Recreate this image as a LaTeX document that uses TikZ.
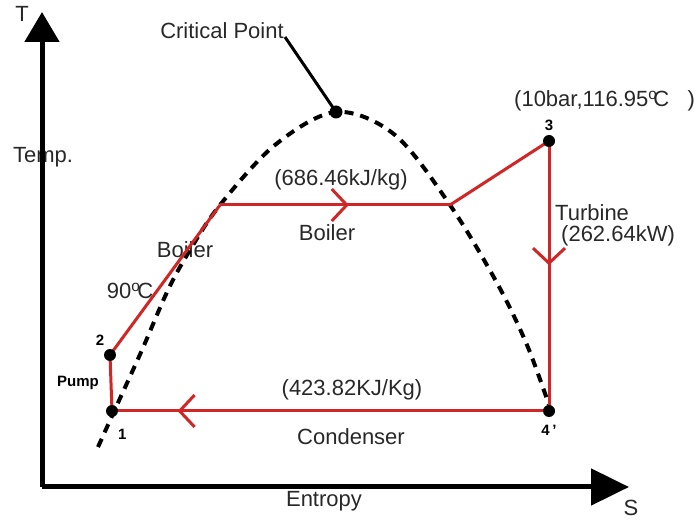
\documentclass[tikz,border=0pt]{standalone}
\usepackage{fontspec}
\setmainfont{Liberation Sans}
\usetikzlibrary{arrows.meta,decorations.markings}

\definecolor{cyclered}{RGB}{208,38,38}
\definecolor{txtgray}{RGB}{40,40,40}

\tikzset{
  axisline/.style={line width=5pt, black},
  cycleline/.style={draw=cyclered, line width=3pt, line join=round},
  domeline/.style={black, line width=4pt, dash pattern=on 9pt off 7pt},
  midbarb/.style={postaction={decorate}, decoration={markings,
      mark=at position #1 with {\arrow[cyclered, line width=3pt]{Straight Barb[length=15pt,width=32pt]}}}},
  txt/.style={text=txtgray, font=\fontsize{22}{26}\selectfont, inner sep=0pt},
  numtxt/.style={text=black, font=\fontsize{15}{18}\selectfont\bfseries, inner sep=0pt}
}

\begin{document}
\begin{tikzpicture}[x=1pt,y=-1pt]
    \useasboundingbox (0,0) rectangle (697,521);
    % texts lying under the lines
    \node[txt] (temp) at (43,157) {Temp.};
    \node[txt] (boilerleft) at (185,250) {Boiler};

    % axes
    \coordinate (O) at (42,487);
    \coordinate (Ttip) at (42,12);
    \coordinate (Stip) at (629,487);
    \draw[axisline, -{Triangle[length=30pt,width=34pt]}] (O) -- (Ttip);
    \draw[axisline, -{Triangle[length=38pt,width=36pt]}] (O) -- (Stip);
    \node[txt] (T) at (22,14) {T};
    \node[txt] (S) at (631,508) {S};
    \node[txt] (entropy) at (324,501) {Entropy};

    % saturation dome
    \draw[domeline] plot[smooth, tension=0.55] coordinates {(98,447) (117,405) (142,350) (168,290) (190,250) (220,205) (275,145) (336,112) (395,135) (450,205) (497,283) (527,345) (549,405)};

    % states
    \coordinate [label={[numtxt, label distance=19pt]-72:1}] (n1) at (112,411);
    \coordinate [label={[numtxt, label distance=11pt]120:2}] (n2) at (110,355);
    \coordinate [label={[numtxt, label distance=10pt]above:3}] (n3) at (549,141);
    \coordinate [label={[numtxt, label distance=14pt]below:4\,'}] (n4) at (549,411);
    \coordinate (a) at (220,205);
    \coordinate (b) at (450,205);

    % cycle
    \draw[cycleline] (n1) -- (n2) -- (a);
    \draw[cycleline, midbarb=0.56] (a) -- (b);
    \draw[cycleline] (b) -- (n3);
    \draw[cycleline, midbarb=0.46] (n3) -- (n4);
    \draw[cycleline, midbarb=0.85] (n4) -- (n1);
    \fill (n1) circle (6pt);
    \fill (n2) circle (6pt);
    \fill (n3) circle (6pt);
    \fill (n4) circle (6pt);

    % critical point
    \coordinate (cp) at (336,112);
    \node[txt] (crit) at (222,31) {Critical Point};
    \coordinate (critend) at (285,37);
    \draw[black, line width=3pt] (critend) -- (cp);
    \fill (cp) circle (6.5pt);

    % labels
    \node[txt, anchor=west] (state3) at (514,101) {(10bar,116.95\textsuperscript{o}\kern-4pt C\ \ \ )};
    \node[txt] (qin) at (341,180) {(686.46kJ/kg)};
    \node[txt] (boiler) at (327,233) {Boiler};
    \node[txt] (t90) at (130,291) {90\textsuperscript{o}\kern-3pt C};
    \node[numtxt] (pump) at (78,383) {Pump};
    \node[txt] (qout) at (352,390) {(423.82KJ/Kg)};
    \node[txt] (cond) at (351,437) {Condenser};
    \node[txt, anchor=west] (turb) at (555,213) {Turbine};
    \node[txt, anchor=west] (wt) at (561,236) {(262.64kW)};
\end{tikzpicture}
\end{document}
